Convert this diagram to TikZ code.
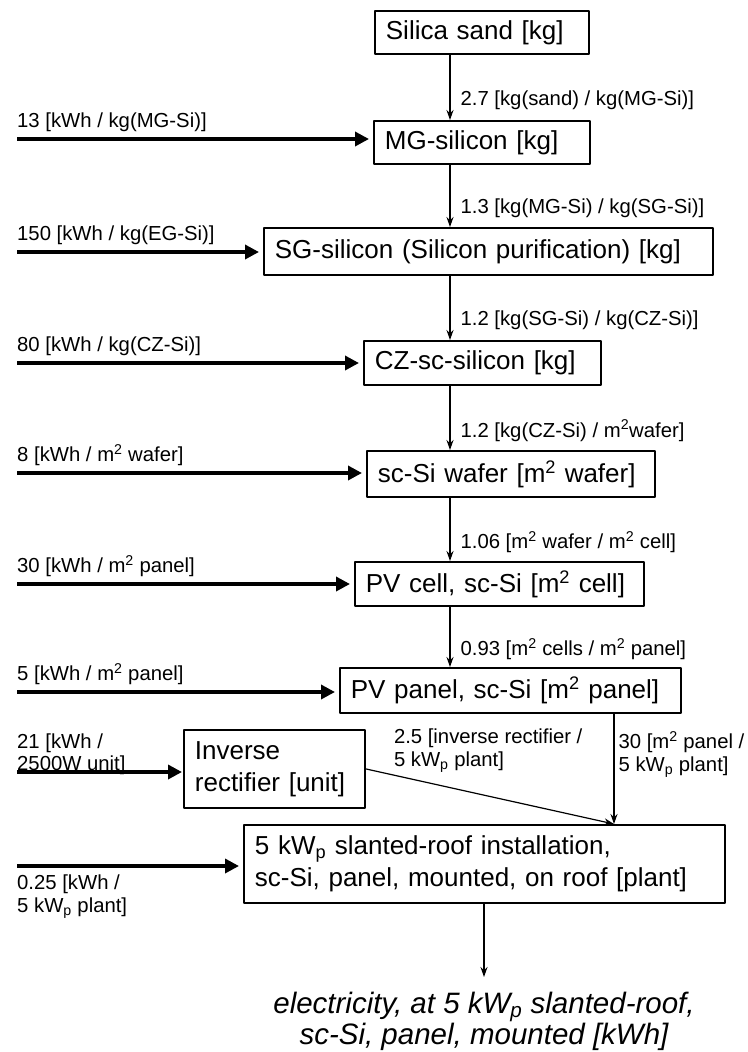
\documentclass[tikz,border=0pt]{standalone}
\usepackage{fontspec}
\setmainfont{Liberation Sans}
\usetikzlibrary{arrows.meta}
\begin{document}
\begin{tikzpicture}[x=1pt, y=-1pt, line join=round,
  box/.style={draw, line width=1.8pt, anchor=north west, inner xsep=11pt, inner ysep=0pt, align=left, font=\fontsize{26}{32}\selectfont},
  lbl/.style={inner sep=0pt, align=left, font=\fontsize{20.3}{22.5}\selectfont},
  flow/.style={-{Stealth[length=10pt, width=7pt]}, line width=1.2pt},
  feed/.style={-{Triangle[length=14pt, width=14pt]}, line width=3.4pt, shorten >=4pt}]
  \useasboundingbox (0,0) rectangle (747,1052);
  % process boxes
  \node[box, text width=192pt, minimum height=43pt] (silica) at (374,10) {Silica sand [kg]};
  \node[box, text width=194pt, minimum height=43pt] (mg) at (373,120) {MG-silicon [kg]};
  \node[box, text width=427pt, minimum height=47pt] (sg) at (263,227) {SG-silicon (Silicon purification) [kg]};
  \node[box, text width=215pt, minimum height=44pt] (cz) at (363,340) {CZ-sc-silicon [kg]};
  \node[box, text width=266pt, minimum height=46pt] (wafer) at (366,450) {sc-Si wafer [m\textsuperscript{2} wafer]};
  \node[box, text width=267pt, minimum height=44pt] (cell) at (354,561) {PV cell, sc-Si [m\textsuperscript{2} cell]};
  \node[box, text width=319pt, minimum height=45pt] (panel) at (339,667) {PV panel, sc-Si [m\textsuperscript{2} panel]};
  \node[box, text width=159pt, minimum height=78pt] (inverse) at (183,729) {Inverse\\rectifier [unit]};
  \node[box, text width=459pt, minimum height=78pt] (plant) at (243,824) {5 kW\textsubscript{p} slanted-roof installation,\\sc-Si, panel, mounted, on roof [plant]};
  \node[font=\fontsize{29.5}{31}\selectfont\itshape, align=center, inner sep=0pt, anchor=north] (out) at (484,992) {electricity, at 5 kW\textsubscript{p} slanted-roof,\\sc-Si, panel, mounted [kWh]};

  \coordinate (spine) at (450,0);
  \coordinate (drop) at (614,0);

  % material chain
  \foreach \a/\b/\t in {silica/mg/{2.7 [kg(sand) / kg(MG-Si)]}, mg/sg/{1.3 [kg(MG-Si) / kg(SG-Si)]}, sg/cz/{1.2 [kg(SG-Si) / kg(CZ-Si)]}, cz/wafer/{1.2 [kg(CZ-Si) / m\textsuperscript{2}wafer]}, wafer/cell/{1.06 [m\textsuperscript{2} wafer / m\textsuperscript{2} cell]}, cell/panel/{0.93 [m\textsuperscript{2} cells / m\textsuperscript{2} panel]}}
    \draw[flow] (\a.south -| spine) -- node[lbl, pos=0.7, anchor=west, xshift=10pt] {\t} (\b.north -| spine);

  % energy inputs
  \foreach \b/\y/\t in {mg/139/{13 [kWh / kg(MG-Si)]}, sg/252/{150 [kWh / kg(EG-Si)]}, cz/363/{80 [kWh / kg(CZ-Si)]}, wafer/473/{8 [kWh / m\textsuperscript{2} wafer]}, cell/584/{30 [kWh / m\textsuperscript{2} panel]}, panel/692/{5 [kWh / m\textsuperscript{2} panel]}} {
    \coordinate (in-\b) at (17,\y);
    \draw[feed] (in-\b) -- (in-\b -| \b.west);
    \node[lbl, anchor=south west, yshift=7pt] (lbl-\b) at (in-\b) {\t};
  }
  \coordinate (in-inverse) at (17,772);
  \draw[feed, shorten >=1pt] (in-inverse) -- (in-inverse -| inverse.west);
  \node[lbl, anchor=south west, yshift=-3pt] (lbl-inverse) at (in-inverse) {21 [kWh /\\2500W unit]};
  \coordinate (in-plant) at (17,866);
  \draw[feed] (in-plant) -- (in-plant -| plant.west);
  \node[lbl, anchor=north west, yshift=-9pt] (lbl-plant) at (in-plant) {0.25 [kWh /\\5 kW\textsubscript{p} plant]};

  % into the plant
  \draw[flow] (panel.south -| drop) -- node[lbl, pos=0, anchor=north west, xshift=4pt, yshift=-17pt] {30 [m\textsuperscript{2} panel /\\5 kW\textsubscript{p} plant]} (plant.north -| drop);
  \draw[flow] (inverse.east) -- (plant.north -| drop);
  \node[lbl, anchor=north west, xshift=28pt] (lbl-rect) at (inverse.north east) {2.5 [inverse rectifier /\\5 kW\textsubscript{p} plant]};

  \draw[flow, shorten >=15pt] (plant.south -| out.north) -- (out.north);
\end{tikzpicture}
\end{document}
